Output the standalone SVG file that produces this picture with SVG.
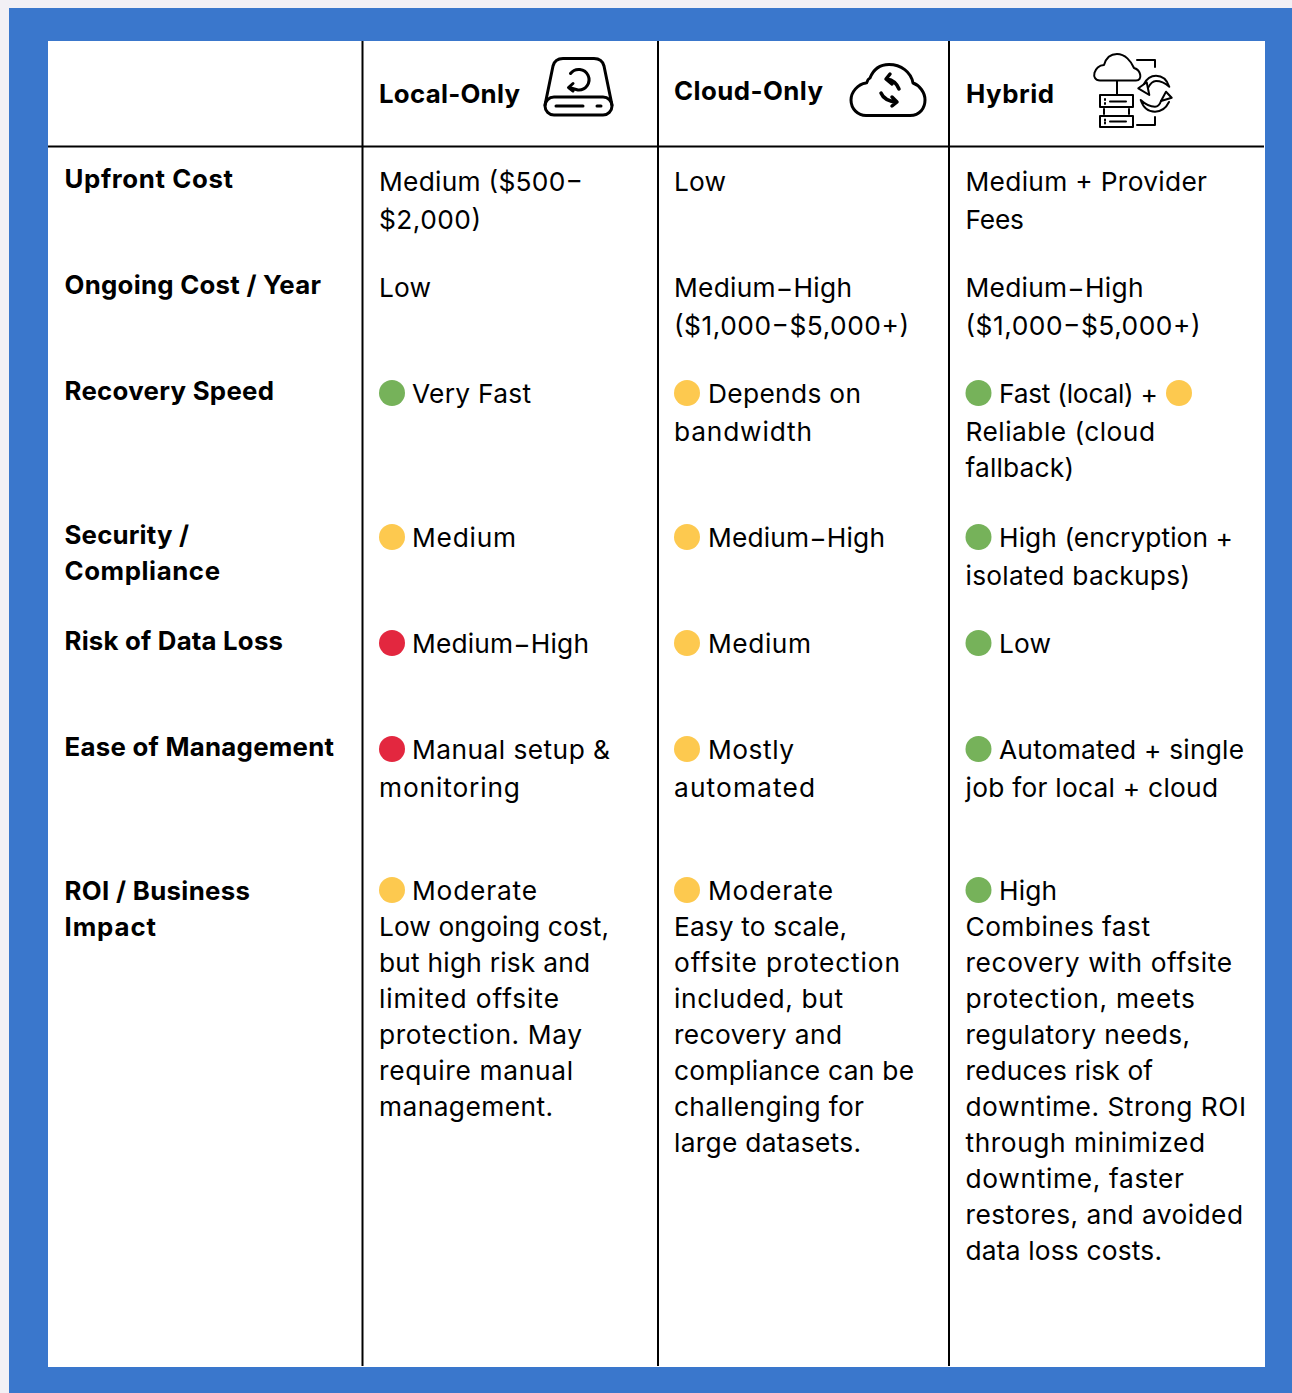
<svg xmlns="http://www.w3.org/2000/svg" width="1292" height="1393" viewBox="0 0 1292 1393">
<style>
text{font-family:"Inter","Noto Sans",sans-serif;fill:#000}
.t{font-size:26.300px}
.b{font-size:25.800px;font-weight:700}
.g{fill:#76b25a}.y{fill:#fdc94f}.r{fill:#e3273f}
.l{stroke:#000;stroke-width:2;fill:none}
.i{stroke:#000;fill:none;stroke-linecap:round;stroke-linejoin:round}
</style>
<rect width="1292" height="1393" fill="#f2f0f5"/>
<rect x="9" y="8" width="1283" height="1385" fill="#3a77cc"/>
<rect x="48" y="41" width="1217" height="1326" fill="#fff"/>
<g id="connectors">
<path class="l" d="M48 146.500H1264M362.500 41V1366M658 41V1366M949 41V1366"/>
</g>
<g id="header">
<text class="b" x="379" y="103" textLength="141">Local-Only</text>
<text class="b" x="674" y="100" textLength="149">Cloud-Only</text>
<text class="b" x="966" y="103" textLength="88">Hybrid</text>
<g id="icon-local" class="i" stroke-width="3">
<path d="M545 105L553 66Q555 58.500 563 58.500H594Q602 58.500 604 66L612 105"/>
<rect x="545" y="97" width="67" height="18" rx="9"/>
<path d="M556 106H583M597 106H601"/>
<path d="M570.500 73.500A10.300 10.300 0 1 1 578 90L569 87.500M573 83.500L568.500 87.500L573 91"/>
</g>
<g id="icon-cloud" class="i" stroke-width="3">
<path d="M866 115.500H910C920 115.500 925 108 925 100C925 92 919 85 913 83C911 72 901 64.500 889 64.500C881 64.500 874 68 870 78C866 80 868 83 866 83C858 84 851 92 851 100C851 109 858 115.500 866 115.500Z"/>
<path stroke-width="3.500" d="M899 89C897 84 893 80 887 79M890 74L886 79L892 84"/>
<path stroke-width="3.500" d="M881 93C883 98 888 101 896 102M892 97L897 102L892 106"/>
</g>
<g id="icon-hybrid" class="i" stroke-width="2">
<path d="M1100 80.500H1136C1143 80.500 1141 70 1134 68C1131 61 1125 54 1117 54C1110 54 1106 58 1104 65C1094 65 1090 80.500 1100 80.500Z"/>
<path d="M1137 60H1155V67M1117 81V95"/>
<rect x="1100" y="95" width="33" height="12"/>
<rect x="1100" y="116" width="33" height="11"/>
<path d="M1105 99V100M1105 103V104M1110 101.500H1126M1105 119.500V120.500M1105 122.500V123.500M1110 121.500H1126M1104 109V114M1129 109V114M1137 125H1155V117"/>
<path d="M1144 84C1147 78 1151 75.700 1156 75.700C1162 75.700 1167 80 1169.300 86.700C1165 83 1160 81 1156 81C1152 81 1150 84 1148 88"/>
<path d="M1138.300 88.300L1146.700 82.300L1149.300 95Z"/>
<path d="M1169 102C1166 108 1161 111.700 1155 111.700C1148 111.700 1143 107 1140.700 100C1145 104 1150 106.700 1155 106.700C1158 106.700 1160 104 1161 101"/>
<path d="M1171.700 97.700L1161 101L1166 91.700Z"/>
</g>
</g>
<g id="row-upfront">
<text class="b" x="64.500" y="188" textLength="168.500">Upfront Cost</text>
<text class="t" x="379" y="191" textLength="204">Medium ($500−</text><text class="t" x="379" y="229" textLength="102">$2,000)</text>
<text class="t" x="674" y="191" textLength="52">Low</text>
<text class="t" x="965.500" y="191" textLength="241.500">Medium + Provider</text><text class="t" x="965.500" y="229" textLength="58.500">Fees</text>
</g>
<g id="row-ongoing">
<text class="b" x="64.500" y="294" textLength="256.500">Ongoing Cost / Year</text>
<text class="t" x="379" y="297" textLength="52">Low</text>
<text class="t" x="674" y="297" textLength="178">Medium−High</text><text class="t" x="674" y="335" textLength="235">($1,000−$5,000+)</text>
<text class="t" x="965.500" y="297" textLength="178">Medium−High</text><text class="t" x="965.500" y="335" textLength="235">($1,000−$5,000+)</text>
</g>
<g id="row-recovery">
<text class="b" x="64.500" y="400" textLength="209.500">Recovery Speed</text>
<circle class="g" cx="392" cy="393" r="13"/><text class="t" x="412" y="403" textLength="119">Very Fast</text>
<circle class="y" cx="687" cy="393" r="13"/><text class="t" x="708" y="403" textLength="153">Depends on</text><text class="t" x="674" y="441" textLength="138">bandwidth</text>
<circle class="g" cx="978.500" cy="393" r="13"/><text class="t" x="999" y="403" textLength="159">Fast (local) +</text><circle class="y" cx="1179" cy="393" r="13"/>
<text class="t" x="965.500" y="441" textLength="189.500">Reliable (cloud</text><text class="t" x="965.500" y="477" textLength="108.500">fallback)</text>
</g>
<g id="row-security">
<text class="b" x="64.500" y="544" textLength="124.500">Security /</text><text class="b" x="64.500" y="580" textLength="155.500">Compliance</text>
<circle class="y" cx="392" cy="537" r="13"/><text class="t" x="412" y="547" textLength="104">Medium</text>
<circle class="y" cx="687" cy="537" r="13"/><text class="t" x="708" y="547" textLength="177">Medium−High</text>
<circle class="g" cx="978.500" cy="537" r="13"/><text class="t" x="999" y="547" textLength="234">High (encryption +</text><text class="t" x="965.500" y="585" textLength="224.500">isolated backups)</text>
</g>
<g id="row-risk">
<text class="b" x="64.500" y="650" textLength="218.500">Risk of Data Loss</text>
<circle class="r" cx="392" cy="643" r="13"/><text class="t" x="412" y="653" textLength="177">Medium−High</text>
<circle class="y" cx="687" cy="643" r="13"/><text class="t" x="708" y="653" textLength="103">Medium</text>
<circle class="g" cx="978.500" cy="643" r="13"/><text class="t" x="999" y="653" textLength="52">Low</text>
</g>
<g id="row-ease">
<text class="b" x="64.500" y="756" textLength="269.500">Ease of Management</text>
<circle class="r" cx="392" cy="749" r="13"/><text class="t" x="412" y="759" textLength="198">Manual setup &amp;</text><text class="t" x="379" y="797" textLength="141">monitoring</text>
<circle class="y" cx="687" cy="749" r="13"/><text class="t" x="708" y="759" textLength="86">Mostly</text><text class="t" x="674" y="797" textLength="141">automated</text>
<circle class="g" cx="978.500" cy="749" r="13"/><text class="t" x="999" y="759" textLength="245">Automated + single</text><text class="t" x="965.500" y="797" textLength="252.500">job for local + cloud</text>
</g>
<g id="row-roi">
<text class="b" x="64.500" y="900" textLength="185.500">ROI / Business</text><text class="b" x="64.500" y="936" textLength="91.500">Impact</text>
<circle class="y" cx="392" cy="890" r="13"/><text class="t" x="412" y="900" textLength="125">Moderate</text>
<text class="t" x="379" y="936" textLength="230">Low ongoing cost,</text><text class="t" x="379" y="972" textLength="211">but high risk and</text><text class="t" x="379" y="1008" textLength="180">limited offsite</text><text class="t" x="379" y="1044" textLength="203">protection. May</text><text class="t" x="379" y="1080" textLength="194">require manual</text><text class="t" x="379" y="1116" textLength="174">management.</text>
<circle class="y" cx="687" cy="890" r="13"/><text class="t" x="708" y="900" textLength="125">Moderate</text>
<text class="t" x="674" y="936" textLength="173">Easy to scale,</text><text class="t" x="674" y="972" textLength="226">offsite protection</text><text class="t" x="674" y="1008" textLength="169">included, but</text><text class="t" x="674" y="1044" textLength="168">recovery and</text><text class="t" x="674" y="1080" textLength="240">compliance can be</text><text class="t" x="674" y="1116" textLength="190">challenging for</text><text class="t" x="674" y="1152" textLength="187">large datasets.</text>
<circle class="g" cx="978.500" cy="890" r="13"/><text class="t" x="999" y="900" textLength="58">High</text>
<text class="t" x="965.500" y="936" textLength="184.500">Combines fast</text><text class="t" x="965.500" y="972" textLength="266.500">recovery with offsite</text><text class="t" x="965.500" y="1008" textLength="229.500">protection, meets</text><text class="t" x="965.500" y="1044" textLength="224.500">regulatory needs,</text><text class="t" x="965.500" y="1080" textLength="187.500">reduces risk of</text><text class="t" x="965.500" y="1116" textLength="280.500">downtime. Strong ROI</text><text class="t" x="965.500" y="1152" textLength="239.500">through minimized</text><text class="t" x="965.500" y="1188" textLength="218.500">downtime, faster</text><text class="t" x="965.500" y="1224" textLength="277.500">restores, and avoided</text><text class="t" x="965.500" y="1260" textLength="196.500">data loss costs.</text>
</g>
</svg>
